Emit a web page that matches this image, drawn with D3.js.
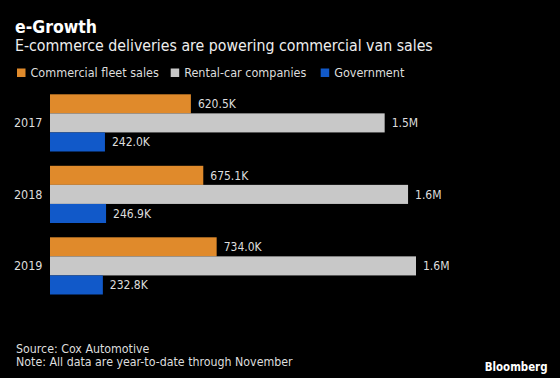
<!DOCTYPE html>
<html>
<head>
<meta charset="utf-8">
<script src="https://cdn.jsdelivr.net/npm/d3@7"></script>
<style>
  body { margin: 0; background: #000; }
  text { font-family: "DejaVu Sans Condensed", "DejaVu Sans", sans-serif; }
</style>
</head>
<body>
<div id="chart"></div>
<script>
// data, thousands of vans (year-to-date through November)
var years = ["2017", "2018", "2019"];
var seriesNames = ["Commercial fleet sales", "Rental-car companies", "Government"];
var fleetSales = [620.5, 675.1, 734.0];
var rentalCar = [1474, 1577, 1612];
var government = [242.0, 246.9, 232.8];
var valueLabels = [
  ["620.5K", "1.5M", "242.0K"],
  ["675.1K", "1.6M", "246.9K"],
  ["734.0K", "1.6M", "232.8K"]
];
var colors = ["#e08a2b", "#c8c8c8", "#1159c9"];

var width = 560,
    height = 378;

var svg = d3.select("#chart")
  .append("svg")
    .attr("width", width)
    .attr("height", height);

svg.append("rect").attr("width", width).attr("height", height).attr("fill", "#000");

// build rows from the arrays
var rows = years.map(function(y, i) {
  return { year: y, values: [fleetSales[i], rentalCar[i], government[i]], labels: valueLabels[i] };
});

var x = d3.scaleLinear()
  .domain([0, d3.max(rentalCar)])
  .range([50, 416]);

var y = d3.scaleBand()
  .domain(years)
  .range([94.3, 294.5])
  .paddingInner(0.2)
  .paddingOuter(0);

var ySub = d3.scaleBand()
  .domain(d3.range(seriesNames.length))
  .range([0, y.bandwidth()]);

// titles
svg.append("text")
  .attr("x", 15).attr("y", 32.5)
  .attr("fill", "#fff")
  .attr("font-size", 17.5).attr("font-weight", "bold")
  .text("e-Growth");

svg.append("text")
  .attr("x", 15).attr("y", 51)
  .attr("fill", "#eee")
  .attr("font-size", 15.75)
  .text("E-commerce deliveries are powering commercial van sales");

// legend
var legendX = [17, 170.7, 320.7];
var legend = svg.selectAll("g.legend")
  .data(seriesNames)
  .enter()
  .append("g")
    .attr("class", "legend")
    .attr("transform", function(d, i) { return "translate(" + legendX[i] + ",68.5)"; });

legend.append("rect")
  .attr("width", 8.5).attr("height", 8.5)
  .attr("fill", function(d, i) { return colors[i]; });

legend.append("text")
  .attr("x", 13.5).attr("y", 8.3)
  .attr("fill", "#ddd")
  .attr("font-size", 12.5)
  .text(function(d) { return d; });

// bars
var groups = svg.selectAll("g.year")
  .data(rows)
  .enter()
  .append("g")
    .attr("class", "year")
    .attr("transform", function(d) { return "translate(0," + y(d.year) + ")"; });

groups.append("text")
  .attr("x", 42.5)
  .attr("y", y.bandwidth() / 2 + 4.5)
  .attr("text-anchor", "end")
  .attr("fill", "#ddd")
  .attr("font-size", 12.5)
  .text(function(d) { return d.year; });

groups.selectAll("rect")
  .data(function(d) { return d.values; })
  .enter()
  .append("rect")
    .attr("x", x(0))
    .attr("y", function(d, i) { return ySub(i); })
    .attr("width", function(d) { return x(d) - x(0); })
    .attr("height", ySub.bandwidth())
    .attr("fill", function(d, i) { return colors[i]; });

groups.selectAll("text.val")
  .data(function(d) { return d.values.map(function(v, i) { return { v: v, label: d.labels[i], i: i }; }); })
  .enter()
  .append("text")
    .attr("class", "val")
    .attr("x", function(d) { return x(d.v) + 7; })
    .attr("y", function(d) { return ySub(d.i) + ySub.bandwidth() / 2 + 4.2; })
    .attr("fill", "#ddd")
    .attr("font-size", 12)
    .text(function(d) { return d.label; });

// footer
svg.append("text")
  .attr("x", 16).attr("y", 352.7)
  .attr("fill", "#ddd").attr("font-size", 12.3)
  .text("Source: Cox Automotive");

svg.append("text")
  .attr("x", 16).attr("y", 366)
  .attr("fill", "#ddd").attr("font-size", 12.3)
  .text("Note: All data are year-to-date through November");

svg.append("text")
  .attr("x", 547.5).attr("y", 370.5)
  .attr("text-anchor", "end")
  .attr("fill", "#fff").attr("font-size", 11.4).attr("font-weight", "bold")
  .attr("font-family", "Liberation Sans, Arial, sans-serif")
  .text("Bloomberg");
</script>
</body>
</html>
